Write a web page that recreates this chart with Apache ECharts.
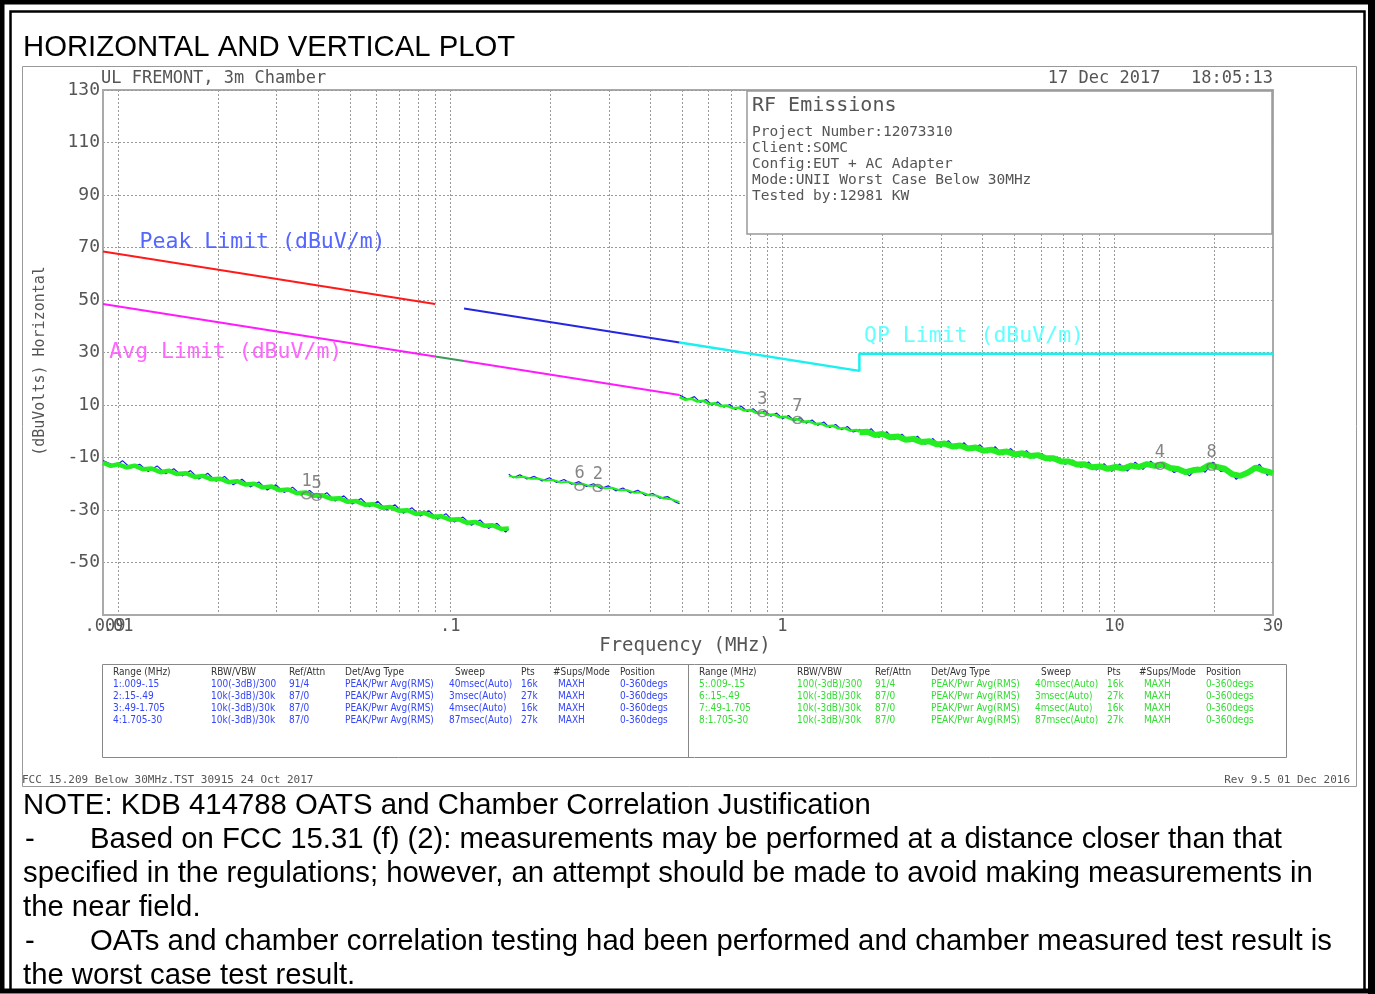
<!DOCTYPE html>
<html>
<head>
<meta charset="utf-8">
<title>Horizontal and vertical plot</title>
<script src="https://cdn.jsdelivr.net/npm/echarts@6/dist/echarts.min.js"></script>
<style>
  html, body { margin: 0; padding: 0; background: #fff; }
  #chart { width: 1375px; height: 994px; }
</style>
</head>
<body>
<div id="chart"></div>
<script>
// axis ticks
const xMin = 0.009, xMax = 30;
const xLabelValues = [0.01, 0.1, 1, 10, 30];
const xGridValues = [0.01, 0.02, 0.03, 0.04, 0.05, 0.06, 0.07, 0.08, 0.09,
  0.1, 0.2, 0.3, 0.4, 0.5, 0.6, 0.7, 0.8, 0.9,
  1, 2, 3, 4, 5, 6, 7, 8, 9, 10, 20];
const yMin = -70, yMax = 130, yStep = 20;

// limit lines [MHz, dBuV/m]
const peakLimitLow = [[0.009, 68.5], [0.09, 48.5]];
const avgLimitLow = [[0.009, 48.5], [0.09, 28.5]];
const qpLimitGap = [[0.09, 28.5], [0.11, 26.8]];
const avgLimitHigh = [[0.11, 26.8], [0.49, 13.8]];
const peakLimitHigh = [[0.11, 46.8], [0.49, 33.8]];
const qpLimit = [[0.49, 33.8], [1.705, 23.0], [1.705, 29.5], [30, 29.5]];

// measured traces, green = avg sweep, blue = peak sweep
const green1 = [[0.0090,-12.0],[0.0095,-13.2],[0.0100,-12.6],[0.0106,-13.8],[0.0112,-13.1],[0.0119,-14.5],[0.0126,-14.2],[0.0134,-15.6],[0.0142,-15.0],[0.0150,-16.3],[0.0160,-16.0],[0.0170,-17.4],[0.0180,-17.0],[0.0191,-18.3],[0.0203,-18.1],[0.0215,-19.4],[0.0228,-19.0],[0.0242,-20.3],[0.0257,-20.0],[0.0272,-21.4],[0.0289,-21.0],[0.0306,-22.5],[0.0325,-22.2],[0.0345,-23.6],[0.0366,-23.3],[0.0388,-24.6],[0.0412,-24.4],[0.0437,-25.7],[0.0463,-25.5],[0.0491,-26.9],[0.0521,-26.6],[0.0553,-28.0],[0.0587,-27.8],[0.0622,-29.1],[0.0660,-28.9],[0.0700,-30.3],[0.0743,-30.1],[0.0788,-31.5],[0.0836,-31.1],[0.0887,-32.6],[0.0941,-32.4],[0.0998,-33.7],[0.1059,-33.5],[0.1123,-34.9],[0.1192,-34.6],[0.1264,-36.0],[0.1341,-35.8],[0.1423,-37.2],[0.1500,-37.0]];
const blue1 = [[0.0090,-11.2],[0.0098,-13.3],[0.0103,-11.2],[0.0109,-14.0],[0.0116,-12.6],[0.0123,-15.3],[0.0131,-13.2],[0.0139,-16.2],[0.0147,-14.3],[0.0156,-17.0],[0.0165,-15.0],[0.0175,-18.2],[0.0186,-16.0],[0.0197,-19.0],[0.0209,-17.2],[0.0222,-20.4],[0.0236,-18.3],[0.0250,-21.2],[0.0265,-19.3],[0.0281,-22.4],[0.0298,-20.4],[0.0316,-23.3],[0.0335,-21.3],[0.0355,-24.3],[0.0377,-22.6],[0.0400,-25.4],[0.0425,-23.4],[0.0450,-26.6],[0.0478,-24.6],[0.0507,-27.7],[0.0538,-25.6],[0.0571,-28.8],[0.0605,-26.7],[0.0642,-30.0],[0.0681,-28.0],[0.0722,-31.2],[0.0766,-29.1],[0.0813,-32.3],[0.0862,-30.3],[0.0915,-33.5],[0.0970,-31.4],[0.1029,-34.6],[0.1092,-32.7],[0.1158,-35.8],[0.1229,-33.8],[0.1303,-37.0],[0.1383,-35.1],[0.1467,-38.4],[0.1500,-37.2]];
const green2 = [[0.150,-17.0],[0.158,-17.6],[0.166,-17.3],[0.175,-18.1],[0.184,-18.0],[0.194,-18.8],[0.204,-18.6],[0.215,-19.5],[0.226,-19.2],[0.238,-20.2],[0.250,-20.0],[0.263,-20.9],[0.277,-20.7],[0.292,-21.7],[0.307,-21.5],[0.323,-22.5],[0.340,-22.4],[0.358,-23.4],[0.377,-23.3],[0.397,-24.4],[0.418,-24.5],[0.440,-25.6],[0.463,-25.9],[0.490,-27.0]];
const blue2 = [[0.150,-16.4],[0.155,-17.7],[0.162,-16.6],[0.170,-18.2],[0.179,-17.2],[0.189,-18.9],[0.199,-17.7],[0.209,-19.5],[0.220,-18.4],[0.232,-20.2],[0.244,-19.2],[0.257,-21.0],[0.270,-20.0],[0.284,-21.8],[0.299,-20.8],[0.315,-22.7],[0.331,-21.6],[0.349,-23.5],[0.367,-22.5],[0.386,-24.4],[0.407,-23.7],[0.428,-25.5],[0.451,-24.9],[0.474,-26.8],[0.490,-27.6]];
const green3 = [[0.490,13.0],[0.510,12.0],[0.532,12.4],[0.554,11.3],[0.577,11.6],[0.601,10.4],[0.626,10.7],[0.652,9.6],[0.679,9.8],[0.708,8.8],[0.737,9.0],[0.768,7.9],[0.800,8.1],[0.833,7.0],[0.868,7.2],[0.904,6.2],[0.942,6.4],[0.981,5.3],[1.022,5.5],[1.065,4.5],[1.109,4.6],[1.155,3.6],[1.203,3.8],[1.253,2.8],[1.305,3.0],[1.360,1.9],[1.417,2.1],[1.476,1.0],[1.537,1.2],[1.601,0.2],[1.668,0.5],[1.705,-0.2]];
const blue3 = [[0.490,13.8],[0.520,12.1],[0.543,13.2],[0.566,11.0],[0.589,12.1],[0.614,10.0],[0.639,11.2],[0.666,9.2],[0.694,10.2],[0.722,8.3],[0.752,9.5],[0.784,7.5],[0.816,8.6],[0.850,6.6],[0.886,7.8],[0.923,5.7],[0.961,6.9],[1.001,4.8],[1.043,6.0],[1.087,3.9],[1.132,5.2],[1.179,3.1],[1.228,4.3],[1.279,2.3],[1.332,3.5],[1.388,1.4],[1.446,2.6],[1.506,0.6],[1.569,1.8],[1.634,-0.3],[1.705,0.5]];
const green4 = [[1.705,-0.4],[1.80,-0.2],[1.90,-1.4],[2.00,-1.0],[2.11,-2.3],[2.23,-2.0],[2.35,-3.2],[2.48,-2.9],[2.62,-4.1],[2.77,-3.8],[2.92,-5.0],[3.08,-4.7],[3.25,-5.8],[3.43,-5.4],[3.62,-6.6],[3.82,-6.2],[4.03,-7.4],[4.26,-7.0],[4.49,-8.1],[4.74,-7.7],[5.00,-8.8],[5.28,-8.4],[5.57,-9.4],[5.88,-9.1],[6.21,-10.3],[6.55,-10.3],[6.91,-11.5],[7.29,-11.5],[7.70,-12.7],[8.12,-12.6],[8.57,-13.7],[9.05,-13.4],[9.55,-14.3],[10.08,-13.6],[10.64,-14.2],[11.23,-13.1],[11.85,-13.6],[12.51,-12.5],[13.20,-13.2],[13.93,-12.6],[14.70,-14.0],[15.52,-14.4],[16.38,-15.6],[17.29,-14.8],[18.25,-14.6],[19.26,-12.9],[20.33,-13.6],[21.45,-14.3],[22.64,-16.4],[23.90,-17.0],[25.23,-15.7],[26.62,-13.8],[28.10,-15.0],[29.0,-15.4],[30.0,-16.0]];
const blue4 = [[1.705,0.8],[1.76,-1.3],[1.85,1.0],[1.95,-2.3],[2.06,-0.2],[2.17,-3.2],[2.29,-1.1],[2.41,-4.0],[2.55,-1.9],[2.69,-5.0],[2.84,-2.8],[2.99,-6.0],[3.16,-3.6],[3.34,-6.7],[3.52,-4.4],[3.72,-7.4],[3.93,-5.1],[4.14,-8.2],[4.37,-5.9],[4.61,-9.0],[4.87,-6.6],[5.14,-9.6],[5.43,-7.4],[5.73,-10.2],[6.04,-8.5],[6.38,-11.3],[6.73,-9.8],[7.10,-12.6],[7.50,-11.0],[7.91,-13.7],[8.35,-11.7],[8.81,-14.8],[9.30,-12.4],[9.81,-15.3],[10.36,-12.5],[10.93,-15.2],[11.54,-11.8],[12.18,-14.5],[12.85,-11.4],[13.56,-14.0],[14.31,-12.7],[15.10,-15.7],[15.94,-14.5],[16.82,-17.0],[17.76,-13.7],[18.74,-15.6],[19.78,-11.8],[20.87,-15.3],[22.03,-14.6],[23.25,-18.3],[24.54,-15.9],[25.90,-15.0],[27.33,-12.6],[28.85,-16.8],[30.0,-15.2]];

// markers
const markerNames = ['1', '5', '6', '2', '3', '7', '4', '8'];
const markerFreq = [0.0369, 0.0396, 0.245, 0.278, 0.87, 1.11, 13.7, 19.6];
const markerLevel = [-24.4, -25.0, -21.2, -21.6, 6.9, 4.3, -13.2, -13.5];

// texts
const tableHeader = ['Range (MHz)', 'RBW/VBW', 'Ref/Attn', 'Det/Avg Type', 'Sweep', 'Pts', '#Sups/Mode', 'Position'];
const tableLeft = [
  ['1:.009-.15', '100(-3dB)/300', '91/4', 'PEAK/Pwr Avg(RMS)', '40msec(Auto)', '16k', 'MAXH', '0-360degs'],
  ['2:.15-.49', '10k(-3dB)/30k', '87/0', 'PEAK/Pwr Avg(RMS)', '3msec(Auto)', '27k', 'MAXH', '0-360degs'],
  ['3:.49-1.705', '10k(-3dB)/30k', '87/0', 'PEAK/Pwr Avg(RMS)', '4msec(Auto)', '16k', 'MAXH', '0-360degs'],
  ['4:1.705-30', '10k(-3dB)/30k', '87/0', 'PEAK/Pwr Avg(RMS)', '87msec(Auto)', '27k', 'MAXH', '0-360degs']
];
const tableRight = [
  ['5:.009-.15', '100(-3dB)/300', '91/4', 'PEAK/Pwr Avg(RMS)', '40msec(Auto)', '16k', 'MAXH', '0-360degs'],
  ['6:.15-.49', '10k(-3dB)/30k', '87/0', 'PEAK/Pwr Avg(RMS)', '3msec(Auto)', '27k', 'MAXH', '0-360degs'],
  ['7:.49-1.705', '10k(-3dB)/30k', '87/0', 'PEAK/Pwr Avg(RMS)', '4msec(Auto)', '16k', 'MAXH', '0-360degs'],
  ['8:1.705-30', '10k(-3dB)/30k', '87/0', 'PEAK/Pwr Avg(RMS)', '87msec(Auto)', '27k', 'MAXH', '0-360degs']
];
const infoLines = ['Project Number:12073310', 'Client:SOMC', 'Config:EUT + AC Adapter',
  'Mode:UNII Worst Case Below 30MHz', 'Tested by:12981 KW'];
const noteLines = [
  ['', 'NOTE: KDB 414788 OATS and Chamber Correlation Justification'],
  ['-', 'Based on FCC 15.31 (f) (2): measurements may be performed at a distance closer than that'],
  ['', 'specified in the regulations; however, an attempt should be made to avoid making measurements in'],
  ['', 'the near field.'],
  ['-', 'OATs and chamber correlation testing had been performed and chamber measured test result is'],
  ['', 'the worst case test result.']
];

const MONO = "'DejaVu Sans Mono', monospace";
const ARIAL = "'Liberation Sans', Arial, sans-serif";
const NARROW = "'DejaVu Sans Condensed', 'Liberation Sans Narrow', sans-serif";
const GREY = '#555';

const myChart = echarts.init(document.getElementById('chart'), null, { renderer: 'canvas' });

function lineSeries(data, color, width, z) {
  return {
    type: 'line',
    data: data,
    showSymbol: false,
    silent: true,
    z: z,
    lineStyle: { color: color, width: width },
    animation: false
  };
}

function fmtFreq(v) {
  const s = String(Math.round(v * 1000) / 1000);
  return s.startsWith('0.') ? s.slice(1) : s;
}

myChart.setOption({
  animation: false,
  backgroundColor: '#fff',
  grid: {
    left: 103, right: 102, top: 90, bottom: 379,
    show: true, borderColor: '#aaa', borderWidth: 2
  },
  xAxis: {
    type: 'log',
    logBase: 10,
    min: xMin,
    max: xMax,
    axisLine: { onZero: false, lineStyle: { color: '#aaa', width: 2 } },
    axisTick: { show: false, customValues: xGridValues },
    axisLabel: {
      customValues: xLabelValues,
      showMinLabel: true, showMaxLabel: true, hideOverlap: false,
      formatter: fmtFreq,
      color: GREY, fontFamily: MONO, fontSize: 17, margin: 3
    },
    splitLine: {
      show: true,
      customValues: xGridValues,
      lineStyle: { color: '#999', width: 1, type: [2, 2] }
    }
  },
  yAxis: {
    type: 'value',
    min: yMin, max: yMax, interval: yStep,
    axisLine: { show: true, onZero: false, lineStyle: { color: '#aaa', width: 2 } },
    axisTick: { show: false },
    axisLabel: {
      formatter: function (v) { return v === yMin ? '' : String(v); },
      color: GREY, fontFamily: MONO, fontSize: 18, margin: 3
    },
    splitLine: { show: true, lineStyle: { color: '#999', width: 1, type: [2, 2] } }
  },
  series: [
    lineSeries(blue1, '#1a1ae6', 1.2, 3),
    lineSeries(blue2, '#1a1ae6', 1.2, 3),
    lineSeries(blue3, '#1a1ae6', 1.2, 3),
    lineSeries(blue4, '#1a1ae6', 1.2, 3),
    lineSeries(green1, '#22ee22', 4.5, 4),
    lineSeries(green2, '#22ee22', 2, 4),
    lineSeries(green3, '#22ee22', 2.5, 4),
    lineSeries(green4, '#22ee22', 6, 4),
    lineSeries(peakLimitLow, '#ff1a1a', 2, 5),
    lineSeries(avgLimitLow, '#ff1aff', 2, 5),
    lineSeries(qpLimitGap, '#3a9a5a', 2, 5),
    lineSeries(avgLimitHigh, '#ff1aff', 2, 5),
    lineSeries(peakLimitHigh, '#2626e0', 2, 5),
    lineSeries(qpLimit, '#1af0f0', 2.5, 5),
    {
      type: 'scatter',
      z: 6,
      silent: true,
      symbol: 'circle',
      symbolSize: [9, 7],
      itemStyle: { color: 'rgba(0,0,0,0)', borderColor: '#777', borderWidth: 1.5 },
      label: {
        show: true, position: 'top', distance: 1,
        formatter: function (p) { return p.name; },
        color: '#666', fontFamily: MONO, fontSize: 17
      },
      data: markerNames.map(function (n, i) {
        return { name: n, value: [markerFreq[i], markerLevel[i]] };
      })
    }
  ]
});

// annotation texts
function txt(x, y, s, font, fill, align, extra) {
  return Object.assign({
    type: 'text', x: x, y: y, z: 60,
    style: {
      text: s, font: font, fill: fill,
      align: align || 'left', textAlign: align || 'left',
      verticalAlign: 'middle', textVerticalAlign: 'middle'
    }
  }, extra || {});
}
function px(f, v) { return myChart.convertToPixel({ gridIndex: 0 }, [f, v]); }

const g = [];
// page borders
g.push({ type: 'rect', z: 70, shape: { x: 2, y: 2, width: 1369, height: 989 }, style: { fill: 'none', stroke: '#000', lineWidth: 5 } });
g.push({ type: 'rect', z: 70, shape: { x: 1368, y: 0, width: 7, height: 994 }, style: { fill: '#000' } });
g.push({ type: 'rect', z: 70, shape: { x: 10.5, y: 11.5, width: 1354, height: 980 }, style: { fill: 'none', stroke: '#000', lineWidth: 2.5 } });
// chart frame
g.push({ type: 'rect', z: 1, shape: { x: 22.5, y: 66.5, width: 1334, height: 720 }, style: { fill: 'none', stroke: '#999', lineWidth: 1 } });

g.push(txt(23, 48, 'HORIZONTAL AND VERTICAL PLOT', '29.3px ' + ARIAL, '#000'));

// header texts of the plot
g.push(txt(101, 79, 'UL FREMONT, 3m Chamber', '17px ' + MONO, GREY));
g.push(txt(1273, 79, '17 Dec 2017   18:05:13', '17px ' + MONO, GREY, 'right'));
g.push(txt(40, 361, '(dBuVolts) Horizontal', '15px ' + MONO, GREY, 'center', { rotation: Math.PI / 2 }));
g.push(txt(685, 646, 'Frequency (MHz)', '19px ' + MONO, GREY, 'center'));

// start-of-axis label, drawn separately so it can overlap ".01" like the plotter output
let p = px(xMin, yMin);
g.push(txt(p[0] + 2, p[1] + 12, fmtFreq(xMin), '17px ' + MONO, GREY, 'center'));

// info box
g.push({ type: 'rect', z: 50, shape: { x: 747, y: 91, width: 525, height: 143 }, style: { fill: '#fff', stroke: '#999', lineWidth: 1.5 } });
g.push(txt(752, 106, 'RF Emissions', '20px ' + MONO, GREY));
infoLines.forEach(function (s, i) {
  g.push(txt(752, 132 + i * 16, s, '14.5px ' + MONO, GREY));
});

// limit captions, anchored in data coordinates
p = px(0.0116, 72.1);
g.push(txt(p[0], p[1], 'Peak Limit (dBuV/m)', '21.5px ' + MONO, '#5566ff'));
p = px(0.0094, 30.2);
g.push(txt(p[0], p[1], 'Avg Limit (dBuV/m)', '21.5px ' + MONO, '#ff66ff'));
p = px(1.76, 36.3);
g.push(txt(p[0], p[1], 'QP Limit (dBuV/m)', '21.5px ' + MONO, '#66ffff'));

// settings table
g.push({ type: 'rect', z: 1, shape: { x: 102.5, y: 664.5, width: 1184, height: 93 }, style: { fill: 'none', stroke: '#888', lineWidth: 1 } });
g.push({ type: 'line', z: 1, shape: { x1: 688.5, y1: 664, x2: 688.5, y2: 757 }, style: { stroke: '#888', lineWidth: 1 } });
const headX = [113, 211, 289, 345, 455, 521, 553, 620];
const cellX = [113, 211, 289, 345, 449, 521, 558, 620];
[[tableLeft, 0, '#3344ff'], [tableRight, 586, '#33dd33']].forEach(function (t) {
  tableHeader.forEach(function (h, c) {
    g.push(txt(headX[c] + t[1], 672, h, '10px ' + NARROW, '#333'));
  });
  t[0].forEach(function (row, r) {
    row.forEach(function (cell, c) {
      g.push(txt(cellX[c] + t[1], 684 + r * 12, cell, '10px ' + NARROW, t[2]));
    });
  });
});

g.push(txt(22, 780, 'FCC 15.209 Below 30MHz.TST 30915 24 Oct 2017', '11px ' + MONO, GREY));
g.push(txt(1350, 780, 'Rev 9.5 01 Dec 2016', '11px ' + MONO, GREY, 'right'));

// note
noteLines.forEach(function (l, i) {
  const y = 806 + i * 34;
  if (l[0]) {
    g.push(txt(25, y, l[0], '29.3px ' + ARIAL, '#000'));
    g.push(txt(90, y, l[1], '29.3px ' + ARIAL, '#000'));
  } else {
    g.push(txt(23, y, l[1], '29.3px ' + ARIAL, '#000'));
  }
});

myChart.setOption({ graphic: g });
</script>
</body>
</html>
